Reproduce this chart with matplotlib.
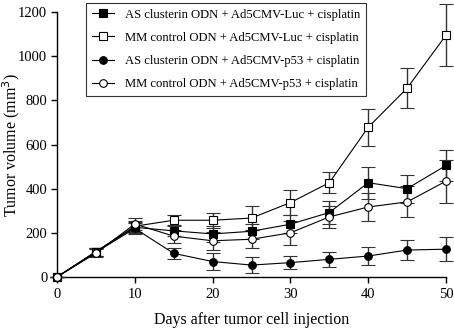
import matplotlib
matplotlib.use("Agg")
import matplotlib.pyplot as plt
from matplotlib.lines import Line2D

plt.rcParams['font.family'] = ['Liberation Serif', 'DejaVu Serif']

days = [0, 5, 10, 15, 20, 25, 30, 35, 40, 45, 50]

as_luc = [0, 115, 225, 209, 195, 207, 239, 292, 427, 400, 505]
as_luc_err = [0, 18, 25, 25, 35, 35, 40, 50, 73, 63, 72]

mm_luc = [0, 115, 230, 257, 257, 267, 337, 427, 678, 855, 1095]
mm_luc_err = [0, 18, 25, 25, 35, 53, 55, 48, 85, 90, 140]

as_p53 = [0, 112, 220, 107, 70, 54, 65, 80, 95, 122, 126]
as_p53_err = [0, 18, 25, 25, 40, 35, 30, 33, 42, 45, 55]

mm_p53 = [0, 108, 240, 185, 164, 171, 200, 272, 317, 340, 434]
mm_p53_err = [0, 18, 25, 30, 40, 40, 55, 50, 65, 70, 97]

labels = [
    "AS clusterin ODN + Ad5CMV-Luc + cisplatin",
    "MM control ODN + Ad5CMV-Luc + cisplatin",
    "AS clusterin ODN + Ad5CMV-p53 + cisplatin",
    "MM control ODN + Ad5CMV-p53 + cisplatin",
]

fig = plt.figure(figsize=(4.54, 3.28), dpi=100)
ax = fig.add_axes([57/454, 1-277/328, (446-57)/454, (277-12)/328])

series = [
    (as_luc, as_luc_err, 's', 'black'),
    (mm_luc, mm_luc_err, 's', 'white'),
    (as_p53, as_p53_err, 'o', 'black'),
    (mm_p53, mm_p53_err, 'o', 'white'),
]
handles = []
for (vals, errs, mk, fc), lab in zip(series, labels):
    ax.errorbar(days, vals, yerr=errs, marker=mk, markersize=5.5,
                markerfacecolor=fc, markeredgecolor='black', markeredgewidth=0.8,
                color='black', linewidth=0.8, ecolor='#333333', elinewidth=1.0,
                capsize=5, capthick=1.0, clip_on=False, zorder=3)
    handles.append(Line2D([], [], marker=mk, markersize=5.5, markerfacecolor=fc,
                          markeredgecolor='black', markeredgewidth=0.8,
                          color='black', linewidth=0.8))

ax.set_xlim(0, 50)
ax.set_ylim(0, 1200)
ax.set_xticks([0, 10, 20, 30, 40, 50])
ax.set_yticks([0, 200, 400, 600, 800, 1000, 1200])
ax.spines['top'].set_visible(False)
ax.spines['right'].set_visible(False)
for s in ['left', 'bottom']:
    ax.spines[s].set_linewidth(1.0)
ax.tick_params(direction='out', length=4, width=1.0, labelsize=10.5)
ax.tick_params(axis='x', pad=4)
ax.tick_params(axis='y', pad=3)
ax.set_xlabel("Days after tumor cell injection", fontsize=11.5, labelpad=8)
ax.set_ylabel("Tumor volume (mm$^3$)", fontsize=11.5)
ax.yaxis.set_label_coords(-0.09, 0.5)

leg = fig.legend(handles=handles, labels=labels, loc='upper left',
                 bbox_to_anchor=(86/454, 1-3/328), fontsize=9.1,
                 frameon=True, fancybox=False, edgecolor='black',
                 handlelength=1.8, borderpad=0.45, labelspacing=0.88,
                 handletextpad=0.85, borderaxespad=0)
leg.get_frame().set_linewidth(0.8)

fig.savefig("out.png", dpi=100)
